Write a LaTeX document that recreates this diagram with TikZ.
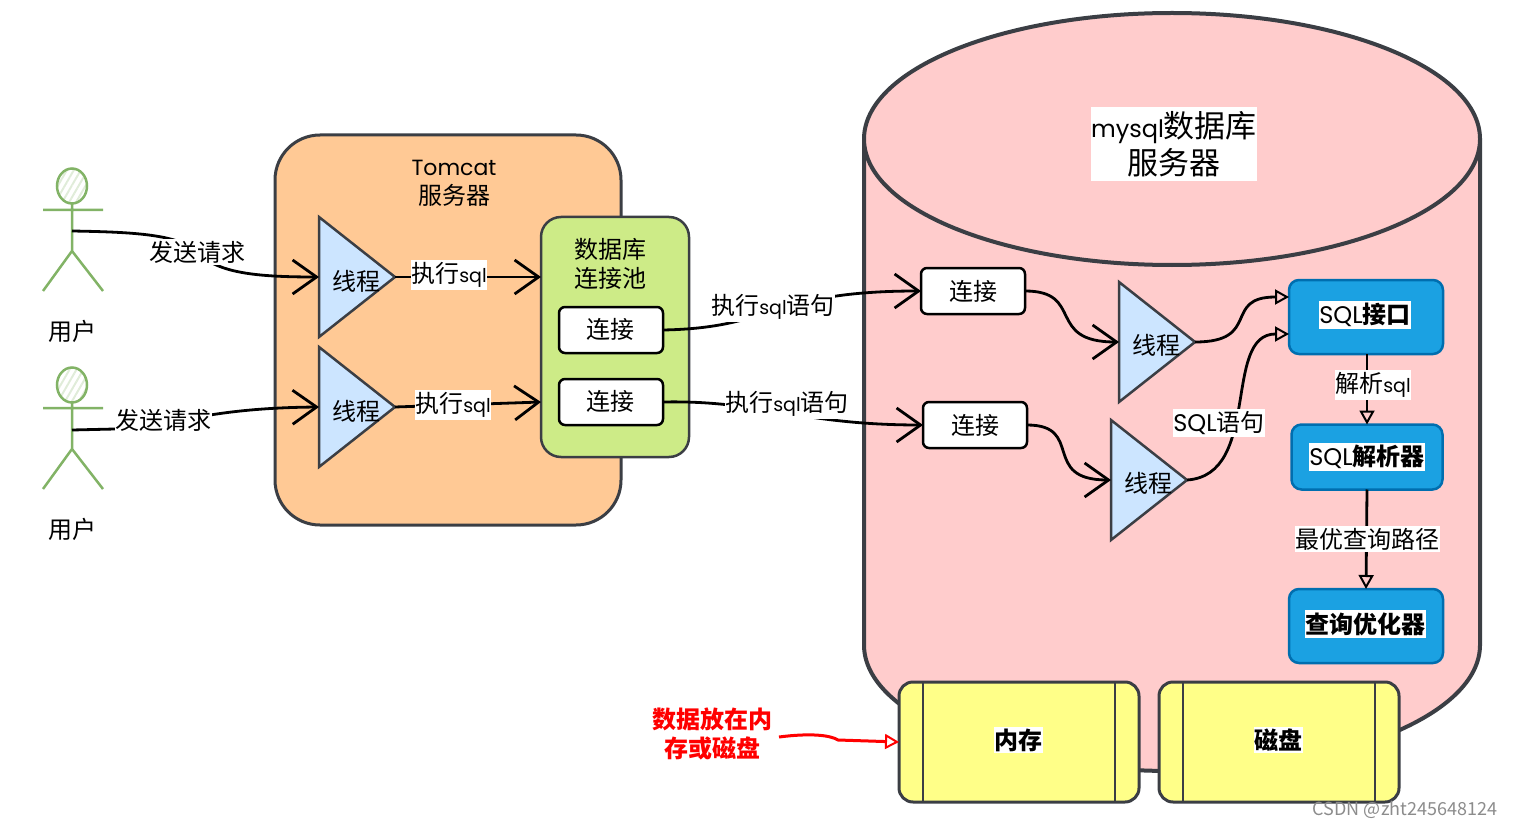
\documentclass[tikz,border=0pt]{standalone}
\usepackage{fontspec}
\setmainfont{Noto Sans CJK SC}
\newfontfamily\hand{Poppins}
\usetikzlibrary{arrows.meta,shapes.geometric,patterns.meta}
\definecolor{inkgray}{HTML}{3B3E44}
\definecolor{tomcatfill}{HTML}{FFC995}
\definecolor{poolfill}{HTML}{CDEB87}
\definecolor{threadfill}{HTML}{CCE5FF}
\definecolor{dbfill}{HTML}{FFCCCC}
\definecolor{bluefill}{HTML}{1BA1E2}
\definecolor{blueline}{HTML}{006EAF}
\definecolor{diskfill}{HTML}{FFFF88}
\definecolor{userline}{HTML}{82B366}
\tikzset{
	base/.style={inner sep=0pt, outer sep=0pt, font=\fontsize{24}{29}\selectfont},
	dbwall/.style={draw=inkgray, line width=4pt, fill=dbfill},
	tomcatbox/.style={base, draw=inkgray, line width=3pt, fill=tomcatfill, rounded corners=45pt, minimum width=346pt, minimum height=390pt},
	poolbox/.style={base, draw=inkgray, line width=2.5pt, fill=poolfill, rounded corners=20pt, minimum width=148pt, minimum height=240pt},
	connbox/.style={base, draw=black, line width=2.5pt, fill=white, rounded corners=6pt, minimum width=104pt, minimum height=46pt},
	threadtri/.style={base, draw=inkgray, line width=2.5pt, fill=threadfill, isosceles triangle, isosceles triangle stretches, minimum width=120pt, minimum height=76pt, anchor=lower side},
	bluebox/.style={base, draw=blueline, line width=2.5pt, fill=bluefill, rounded corners=10pt},
	diskbox/.style={base, draw=inkgray, line width=3pt, fill=diskfill, rounded corners=14pt, minimum width=240pt, minimum height=120pt},
	inner line/.style={draw=inkgray, line width=2pt},
	txt/.style={base, align=center},
	lbl/.style={base, align=center, fill=white, inner xsep=0.5pt, inner ysep=2pt},
	boldlbl/.style={lbl, font=\fontsize{24}{29}\selectfont\bfseries},
	link/.style={draw=black, line width=2.8pt, -{Straight Barb[length=24pt, width=34pt, line width=2.8pt]}},
	openlink/.style={draw=black, line width=2.8pt, -{Triangle[open, length=14pt, width=15pt, line width=2pt]}},
	userhead/.style={base, draw=userline, line width=2.5pt, ellipse, minimum width=30pt, minimum height=35pt, pattern={Lines[angle=60, distance=6pt, line width=2pt]}, pattern color=userline!25},
	userbody/.style={draw=userline, line width=2.5pt},
}
\begin{document}
\begin{tikzpicture}[x=1pt, y=-1pt]
	\useasboundingbox (0,0) rectangle (1514,826);
	% database cylinder
	\draw[dbwall] (864,140) -- (864,645) .. controls (864,715) and (1002,771) .. (1172,771) .. controls (1342,771) and (1480,715) .. (1480,645) -- (1480,140);
	\node[base, dbwall, ellipse, minimum width=616pt, minimum height=252pt] (dbtop) at (1172,139) {};
	\node[lbl, inner ysep=4pt, font=\fontsize{31}{37}\selectfont] (dbtext) at (1174,144) {{\hand\fontsize{24}{37}\selectfont mysql}数据库\\服务器};

	% users
	\node[userhead] (head1) at (72,186) {};
	\coordinate (user1) at (72,231);
	\draw[userbody] (head1.south) -- (72,251) -- (43,291) (72,251) -- (103,291) (43,210) -- (103,210);
	\node[txt] (name1) at (72,331) {用户};
	\node[userhead] (head2) at (72,385) {};
	\coordinate (user2) at (72,430);
	\draw[userbody] (head2.south) -- (72,449) -- (43,489) (72,449) -- (103,489) (43,408) -- (103,408);
	\node[txt] (name2) at (72,529) {用户};

	% tomcat
	\node[tomcatbox] (tomcat) at (448,330) {};
	\node[txt] (tomcattext) at (454,183) {{\hand\fontsize{22}{29}\selectfont Tomcat}\\服务器};
	\node[threadtri] (thread1) at (319,277) {};
	\node[txt] (thread1text) at (356,281) {线程};
	\node[threadtri] (thread2) at (319,407) {};
	\node[txt] (thread2text) at (356,411) {线程};
	\node[poolbox] (pool) at (615,337) {};
	\node[txt] (pooltext) at (610,264) {数据库\\连接池};
	\node[connbox] (conn1) at (611,330) {};
	\node[txt] (conn1text) at (610,329) {连接};
	\node[connbox] (conn2) at (611,402) {};
	\node[txt] (conn2text) at (610,401) {连接};

	% server side
	\node[connbox] (conn3) at (973,291) {连接};
	\node[connbox] (conn4) at (975,425) {连接};
	\node[threadtri] (thread3) at (1119,342) {};
	\node[txt] (thread3text) at (1156,345) {线程};
	\node[threadtri] (thread4) at (1111,480) {};
	\node[txt] (thread4text) at (1148,483) {线程};
	\node[bluebox, minimum width=154pt, minimum height=74pt] (sqlport) at (1366,317) {};
	\node[boldlbl] (sqlporttext) at (1365,315) {{\hand\mdseries SQL}接口};
	\node[bluebox, minimum width=151pt, minimum height=65pt] (parser) at (1367,457) {};
	\node[boldlbl] (parsertext) at (1367,457) {{\hand\mdseries SQL}解析器};
	\node[bluebox, minimum width=154pt, minimum height=74pt] (optimizer) at (1366,626) {};
	\node[boldlbl] (optimizertext) at (1365,624) {查询优化器};

	% storage
	\node[diskbox] (memory) at (1019,742) {};
	\draw[inner line] ([xshift=24pt]memory.north west) -- ([xshift=24pt]memory.south west);
	\draw[inner line] ([xshift=-24pt]memory.north east) -- ([xshift=-24pt]memory.south east);
	\node[boldlbl] (memorytext) at (1018,740) {内存};
	\node[diskbox] (disk) at (1279,742) {};
	\draw[inner line] ([xshift=24pt]disk.north west) -- ([xshift=24pt]disk.south west);
	\draw[inner line] ([xshift=-24pt]disk.north east) -- ([xshift=-24pt]disk.south east);
	\node[boldlbl] (disktext) at (1278,740) {磁盘};
	\node[txt, text=red, font=\fontsize{24}{29}\selectfont\bfseries] (note) at (712,734) {数据放在内\\存或磁盘};
	\coordinate (notestart) at (779,737);

	% connectors
	\draw[link] (user1) .. controls (130,232) and (175,234) .. (195,250) .. controls (215,272) and (250,277) .. (thread1.lower side);
	\draw[link] (user2) -- (115,429) .. controls (170,428) and (200,408) .. (thread2.lower side);
	\draw[link] (thread1.apex) -- (thread1.apex -| pool.west);
	\draw[link] (thread2.apex) -- (pool.west |- conn2);
	\draw[link] (conn1.east) .. controls (775,328) and (770,291) .. (conn3.west);
	\draw[link] (conn2.east) .. controls (760,400) and (800,425) .. (conn4.west);
	\draw[link] (conn3.east) .. controls (1085,291) and (1045,342) .. (thread3.lower side);
	\draw[link] (conn4.east) .. controls (1085,425) and (1040,480) .. (thread4.lower side);
	\draw[openlink] (thread3.apex) .. controls (1262,342) and (1222,297) .. (sqlport.west |- 0,297);
	\draw[openlink] (thread4.apex) .. controls (1262,475) and (1222,334) .. (sqlport.west |- 0,334);
	\draw[openlink] (sqlport.south -| parser.north) -- (parser.north);
	\draw[openlink] (parser.south) -- (optimizer.north);
	\draw[openlink, draw=red, line width=3pt] (notestart) .. controls (810,733) and (830,735) .. (838,740) -- (memory.west |- 0,742);

	% labels on connectors
	\node[lbl] (send1) at (197,252) {发送请求};
	\node[lbl] (send2) at (163,420) {发送请求};
	\node[lbl] (exec1) at (449,275) {执行{\hand\fontsize{19}{29}\selectfont sql}};
	\node[lbl] (exec2) at (453,405) {执行{\hand\fontsize{19}{29}\selectfont sql}};
	\node[lbl] (exec3) at (773,307) {执行{\hand\fontsize{19}{29}\selectfont sql}语句};
	\node[lbl] (exec4) at (787,404) {执行{\hand\fontsize{19}{29}\selectfont sql}语句};
	\node[lbl] (stmt) at (1219,423) {{\hand SQL}语句};
	\node[lbl] (parse) at (1373,385) {解析{\hand\fontsize{19}{29}\selectfont sql}};
	\node[lbl] (best) at (1367,539) {最优查询路径};

	% watermark
	\node[base, text=black!45, font=\fontsize{18}{20}\selectfont] (mark) at (1405,810) {CSDN @zht245648124};
\end{tikzpicture}
\end{document}
